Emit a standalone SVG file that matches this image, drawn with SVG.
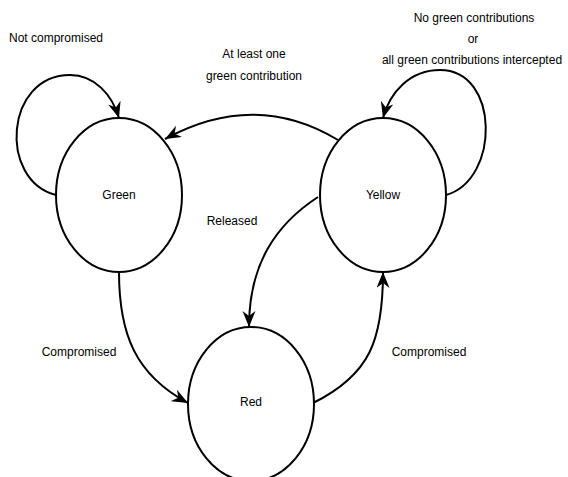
<svg xmlns="http://www.w3.org/2000/svg" width="568" height="477" viewBox="0 0 568 477">
<style>
  .node { fill: #fff; stroke: #000; stroke-width: 2; }
  .edge { fill: none; stroke: #000; stroke-width: 2; marker-end: url(#arr); }
  text { font-family: "Liberation Sans", Arial, sans-serif; font-size: 12px; fill: #000; text-anchor: middle; }
</style>
<defs>
  <marker id="arr" markerUnits="userSpaceOnUse" markerWidth="18" markerHeight="14" refX="16" refY="6.5" orient="auto">
    <path d="M0,0 L16,6.5 L0,13 L5,6.5 z" fill="#000"/>
  </marker>
</defs>
<rect width="568" height="477" fill="#fff"/>
<g id="connectors">
  <path class="edge" d="M56,195 C -2,180 5,75 70,75 C 95,75 112,95 119,118"/>
  <path class="edge" d="M446,195 C 500,180 500,70 440,70 C 410,70 390,92 383,118"/>
  <path class="edge" d="M338,140 Q 255,90 165,139"/>
  <path class="edge" d="M318,197 C 275,225 249,265 249,327"/>
  <path class="edge" d="M119,272 C 119,335 136,375 188,403"/>
  <path class="edge" d="M313,403 C 370,375 383,340 383,272"/>
</g>
<g id="green">
  <ellipse class="node" cx="119" cy="195" rx="63" ry="77"/>
  <text x="119" y="199">Green</text>
</g>
<g id="yellow">
  <ellipse class="node" cx="383" cy="195" rx="63" ry="77"/>
  <text x="383" y="199">Yellow</text>
</g>
<g id="red">
  <ellipse class="node" cx="251" cy="404" rx="63" ry="77"/>
  <text x="251" y="406">Red</text>
</g>
<g id="labels">
  <text x="56" y="42">Not compromised</text>
  <text x="254" y="58">At least one</text>
  <text x="254" y="80">green contribution</text>
  <text x="474" y="22">No green contributions</text>
  <text x="473" y="43">or</text>
  <text x="472" y="64">all green contributions intercepted</text>
  <text x="232" y="225">Released</text>
  <text x="79" y="356">Compromised</text>
  <text x="429" y="356">Compromised</text>
</g>
</svg>
